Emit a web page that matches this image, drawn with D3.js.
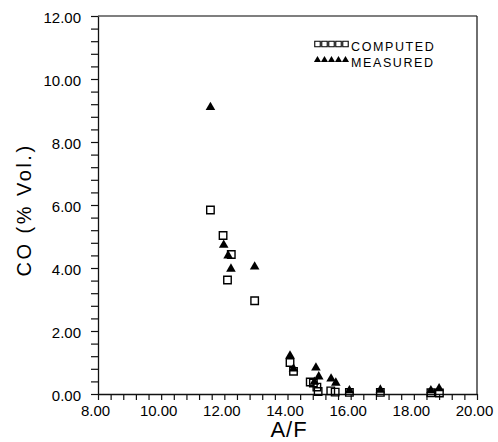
<!DOCTYPE html>
<html>
<head>
<meta charset="utf-8">
<script src="https://cdn.jsdelivr.net/npm/d3@7"></script>
<style>
  html, body { margin: 0; padding: 0; background: #fff; }
  svg { display: block; }
  text { font-family: "Liberation Sans", Arial, sans-serif; fill: #000; }
</style>
</head>
<body>
<div id="chart"></div>
<script>
// --- data ---
const computedAF = [11.56, 11.96, 12.22, 12.10, 12.96, 14.08, 14.19, 14.72, 14.82, 14.93, 14.97, 15.37, 15.51, 15.96, 16.94, 18.54, 18.81];
const computedCO = [5.84, 5.03, 4.43, 3.62, 2.96, 1.00, 0.72, 0.38, 0.35, 0.22, 0.08, 0.10, 0.06, 0.05, 0.05, 0.04, 0.03];
const measuredAF = [11.56, 11.98, 12.12, 12.21, 12.96, 14.08, 14.19, 14.90, 14.99, 14.85, 15.38, 15.53, 15.96, 16.94, 18.54, 18.80];
const measuredCO = [9.07, 4.70, 4.36, 3.94, 4.01, 1.18, 0.77, 0.80, 0.52, 0.35, 0.45, 0.32, 0.08, 0.10, 0.08, 0.14];

const xTickLabels = ['8.00', '10.00', '12.00', '14.00', '16.00', '18.00', '20.00'];
const yTickLabels = ['0.00', '2.00', '4.00', '6.00', '8.00', '10.00', '12.00'];
const seriesNames = ['COMPUTED', 'MEASURED'];

// --- layout ---
const width = 498, height = 442;
const margin = { top: 16, right: 21, bottom: 48, left: 98 };

const svg = d3.select('#chart').append('svg')
    .attr('width', width)
    .attr('height', height);

const x = d3.scaleLinear().domain([8, 20]).range([margin.left, width - margin.right]);
const y = d3.scaleLinear().domain([0, 12]).range([height - margin.bottom, margin.top]);

// minor ticks every 0.4, labels only on the majors
const minor = d3.range(0, 31).map(i => +(i * 0.4).toFixed(1));
const xMinor = minor.map(v => +(v + 8).toFixed(1));
const labelFor = labels => v => {
    const hit = labels.find(l => Math.abs(+l - v) < 1e-6);
    return hit || '';
};

// frame: top and right borders
svg.append('line')
    .attr('x1', x(8)).attr('x2', x(20))
    .attr('y1', y(12)).attr('y2', y(12))
    .attr('stroke', '#555').attr('stroke-width', 1.3);
svg.append('line')
    .attr('x1', x(20)).attr('x2', x(20))
    .attr('y1', y(12)).attr('y2', y(0))
    .attr('stroke', '#222').attr('stroke-width', 1.3);

const xAxis = svg.append('g')
    .attr('transform', `translate(0,${y(0)})`)
    .call(d3.axisBottom(x).tickValues(xMinor).tickFormat(labelFor(xTickLabels)).tickSize(6).tickSizeOuter(0));
xAxis.selectAll('text')
    .attr('font-size', 15)
    .attr('dx', -3)
    .attr('dy', '0.85em');

const yAxis = svg.append('g')
    .attr('transform', `translate(${x(8)},0)`)
    .call(d3.axisLeft(y).tickValues(minor).tickFormat(labelFor(yTickLabels)).tickSize(7).tickSizeOuter(0));
yAxis.selectAll('text')
    .attr('font-size', 15)
    .attr('x', -17)
    .attr('dy', '0.45em');

[xAxis, yAxis].forEach(g => {
    g.select('.domain').attr('stroke', '#111').attr('stroke-width', 1.3);
    g.selectAll('.tick line').attr('stroke', '#111').attr('stroke-width', 1.2);
    g.selectAll('text').attr('font-family', '"Liberation Sans", Arial, sans-serif').attr('fill', '#000');
});

// axis titles
svg.append('text')
    .attr('x', 289).attr('y', 437)
    .attr('text-anchor', 'middle')
    .attr('font-size', 22)
    .attr('letter-spacing', 1)
    .attr('font-weight', 300)
    .text('A/F');

svg.append('text')
    .attr('transform', 'translate(31,210) rotate(-90)')
    .attr('text-anchor', 'middle')
    .attr('font-size', 20)
    .attr('letter-spacing', 2.5)
    .attr('font-weight', 300)
    .text('CO (% Vol.)');

// markers
const squarePath = d3.symbol().type(d3.symbolSquare).size(56);
const trianglePath = d3.symbol().type(d3.symbolTriangle).size(40);

svg.append('g').selectAll('path')
    .data(computedAF.map((v, i) => [v, computedCO[i]]))
    .join('path')
    .attr('d', squarePath)
    .attr('transform', d => `translate(${x(d[0])},${y(d[1])})`)
    .attr('fill', 'none')
    .attr('stroke', '#000')
    .attr('stroke-width', 1.4);

svg.append('g').selectAll('path')
    .data(measuredAF.map((v, i) => [v, measuredCO[i]]))
    .join('path')
    .attr('d', trianglePath)
    .attr('transform', d => `translate(${x(d[0])},${y(d[1]) - 1})`)
    .attr('fill', '#000');

// legend: five symbols then the name
const legend = svg.append('g');
const legendSq = d3.symbol().type(d3.symbolSquare).size(30);
const legendTri = d3.symbol().type(d3.symbolTriangle).size(22);
seriesNames.forEach((name, row) => {
    const cy = 44 + row * 16;
    d3.range(5).forEach(k => {
        const p = legend.append('path')
            .attr('transform', `translate(${317.5 + k * 7},${cy})`);
        if (row === 0) {
            p.attr('d', legendSq).attr('fill', 'none').attr('stroke', '#000').attr('stroke-width', 1.1);
        } else {
            p.attr('d', legendTri).attr('fill', '#000');
        }
    });
    legend.append('text')
        .attr('x', 351).attr('y', cy + 6.5)
        .attr('font-size', 12.5)
        .attr('letter-spacing', 1.6)
        .text(name);
});
</script>
</body>
</html>
